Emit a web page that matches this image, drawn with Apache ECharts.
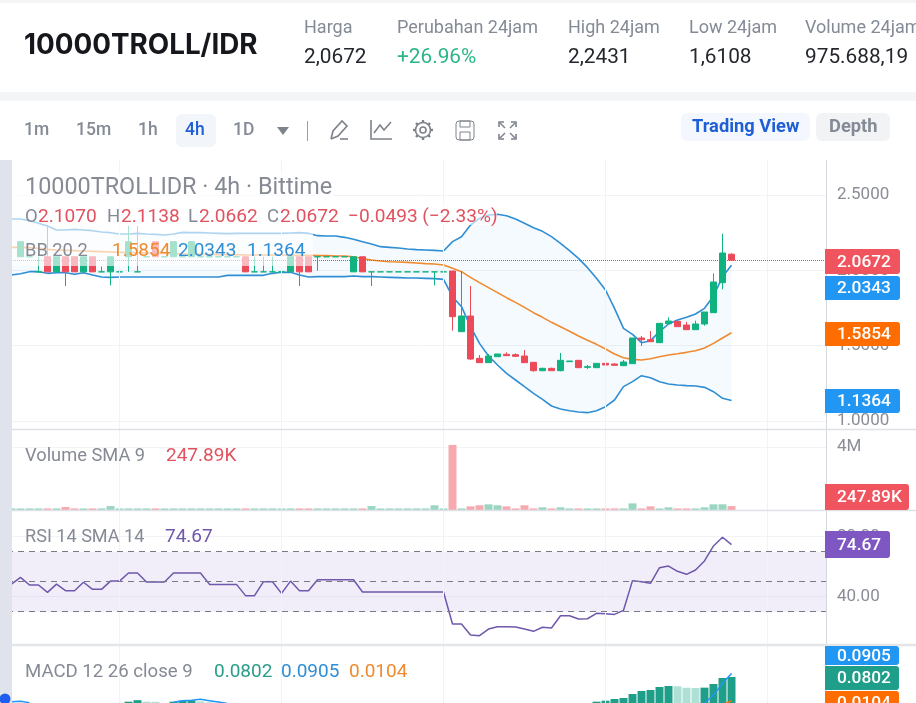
<!DOCTYPE html>
<html><head><meta charset="utf-8">
<style>html,body{margin:0;padding:0;background:#fff}#c{width:916px;height:703px}</style>
<script src="https://cdn.jsdelivr.net/npm/echarts@6/dist/echarts.min.js"></script>
</head><body><div id="c"></div>
<script>
// index 0 of candles = first visible candle; bands/volume/RSI carry one extra leading slot (clipped at the left edge)
const opens=[2.09,2.09,1.99,2.09,1.99,2.09,2.09,1.99,2.09,1.99,
1.99,1.99,2.09,1.99,2.09,2.19,2.09,2.09,2.09,2.09,
2.09,2.09,2.09,2.09,2.09,2.09,1.99,1.99,1.99,1.99,
1.99,2.09,2.09,2.09,2.09,2.09,2.09,1.99,2.09,1.99,
1.99,1.99,1.99,1.99,1.99,1.99,1.99,1.99,
1.9956,1.5929,1.6969,1.4160,1.3872,1.4270,1.4425,1.4403,1.4314,1.3894,1.3341,1.3496,1.3341,1.3938,1.4027,1.3562,1.3540,1.3828,1.3784,1.3673,1.3806,1.5509,1.5398,1.5199,1.6460,1.6615,1.6372,1.6062,1.6438,1.7190,1.9181,2.1070];
const closes=[2.19,2.09,1.99,1.99,2.09,1.99,1.99,2.09,1.99,1.99,
2.09,1.99,2.19,1.99,2.09,2.09,2.09,2.19,2.09,2.19,
2.09,2.09,2.09,2.09,2.09,1.99,1.99,1.99,1.99,1.99,
2.09,1.99,1.99,2.09,2.09,2.09,2.09,2.09,1.99,1.99,
1.99,1.99,1.99,1.99,1.99,1.99,1.99,1.99,
1.6925,1.6969,1.4115,1.3872,1.4314,1.4447,1.4337,1.4292,1.3872,1.3341,1.3496,1.3341,1.4027,1.3983,1.3540,1.3607,1.3828,1.3717,1.3695,1.3916,1.5509,1.5398,1.5266,1.6482,1.6637,1.6261,1.6062,1.6438,1.7235,1.9226,2.1150,2.0672];
const lows=[2.09,2.09,1.99,1.99,1.99,1.8961,1.99,1.99,1.99,1.99,
1.9005,1.99,1.99,1.99,2.09,2.09,2.09,2.09,2.09,2.09,
2.09,2.09,2.09,2.09,2.09,1.99,1.99,1.99,1.99,1.99,
1.99,1.8961,1.99,1.9978,2.09,2.09,2.09,1.99,1.99,1.8961,
1.99,1.99,1.99,1.99,1.99,1.99,1.9005,1.99,
1.5996,1.5929,1.4049,1.3872,1.3872,1.4270,1.4314,1.4292,1.3872,1.3275,1.3297,1.3341,1.3297,1.3938,1.3540,1.3452,1.3540,1.3673,1.3695,1.3673,1.3806,1.4978,1.5266,1.5199,1.6460,1.6239,1.6062,1.6062,1.6328,1.7190,1.8739,2.0662];
const highs=[2.19,2.09,2.09,2.2989,2.09,2.09,2.09,2.09,2.09,2.0244,
2.09,2.09,2.2943,2.2943,2.09,2.19,2.09,2.19,2.09,2.19,
2.09,2.09,2.09,2.09,2.09,2.09,2.09,2.09,2.09,2.09,
2.09,2.09,2.09,2.09,2.09,2.09,2.09,2.09,2.09,1.99,
1.99,1.99,1.99,1.99,1.99,1.99,1.99,1.99,
1.9956,1.9956,1.8960,1.4381,1.4447,1.4447,1.4558,1.4491,1.4713,1.3894,1.3540,1.3540,1.4514,1.3983,1.4049,1.3717,1.3828,1.4093,1.3828,1.4049,1.5509,1.5642,1.5974,1.6482,1.6881,1.6704,1.6571,1.6659,1.7235,1.9801,2.2431,2.1138];

const bbUpper=[2.3407,2.3407,2.3297,2.3120,2.2943,2.2677,2.2677,2.2721,2.2677,2.2633,2.2544,2.2500,2.2412,2.2412,2.2456,2.2412,2.2390,2.2345,2.2412,2.2522,2.2500,2.2500,2.2478,2.2456,2.2434,2.2456,2.2456,2.2456,2.2456,2.2456,2.2456,2.2478,2.2500,2.2456,2.2301,2.2279,2.2279,2.2190,2.2058,2.1903,2.1748,2.1571,2.1527,2.1483,2.1416,2.1372,2.1350,2.1328,2.1283,
2.1903,2.2234,2.3009,2.3451,2.3672,2.3717,2.3628,2.3407,2.3119,2.2832,2.2588,2.2234,2.1792,2.1305,2.0796,2.0177,1.9469,1.8695,1.7478,1.6151,1.5752,1.5199,1.5332,1.5929,1.6438,1.6704,1.6881,1.7102,1.7478,1.8297,1.9580,2.0343];
const bbMid=[2.1527,2.1527,2.1505,2.1460,2.1394,2.1350,2.1328,2.1306,2.1283,2.1261,2.1239,2.1217,2.1195,2.1173,2.1173,2.1151,2.1129,2.1129,2.1107,2.1084,2.1084,2.1062,2.1062,2.1040,2.1040,2.1040,2.1018,2.1018,2.1018,2.1018,2.1018,2.0996,2.0996,2.0996,2.0974,2.0974,2.0952,2.0952,2.0907,2.0775,2.0686,2.0620,2.0575,2.0553,2.0531,2.0487,2.0443,2.0421,2.0354,
2.0133,1.9912,1.9535,1.9182,1.8850,1.8518,1.8186,1.7876,1.7544,1.7190,1.6881,1.6549,1.6261,1.5952,1.5642,1.5354,1.5089,1.4779,1.4447,1.4204,1.4093,1.4049,1.4137,1.4270,1.4381,1.4469,1.4558,1.4669,1.4845,1.5155,1.5509,1.5854];
const bbLower=[1.9691,1.9779,1.9912,1.9912,1.9801,1.9845,1.9845,1.9735,1.9845,1.9691,1.9558,1.9536,1.9558,1.9558,1.9558,1.9558,1.9558,1.9558,1.9558,1.9558,1.9558,1.9558,1.9558,1.9558,1.9668,1.9668,1.9668,1.9668,1.9668,1.9801,1.9868,1.9868,1.9691,1.9558,1.9580,1.9580,1.9580,1.9580,1.9624,1.9580,1.9580,1.9558,1.9536,1.9514,1.9491,1.9491,1.9469,1.9447,1.9403,
1.8252,1.7589,1.6261,1.5155,1.4314,1.3717,1.3164,1.2722,1.2279,1.1837,1.1438,1.0996,1.0797,1.0686,1.0598,1.0554,1.0686,1.0952,1.1394,1.2279,1.2611,1.3009,1.2876,1.2611,1.2456,1.2390,1.2346,1.2323,1.2235,1.1947,1.1505,1.1364];

const volumes=[.1,.1,.1,.1,.1,.1,.19,.1,.1,.1,.1,.25,.1,.1,.1,.1,.1,.1,.1,.1,.1,.1,.1,.1,.1,.1,.1,.1,.1,.1,.1,.1,.1,.1,.1,.1,.1,.1,.1,.1,.25,.1,.1,.1,.1,.1,.1,.3,.1,
4.13,.1,.23,.3,.36,.3,.23,.1,.3,.1,.17,.1,.17,.1,.1,.1,.1,.1,.1,.1,.42,.1,.23,.1,.17,.1,.1,.1,.17,.36,.36,.248];

const rsi=[48.4,52.9,47.8,47.8,42.9,48.4,44.0,44.0,49.6,44.9,44.9,50.4,50.4,55.8,55.8,49.8,49.8,49.8,55.8,55.8,55.8,55.8,48.2,48.2,48.2,48.2,40.7,40.7,50.0,50.0,42.2,50.4,44.0,44.0,51.3,51.3,51.3,51.3,51.3,43.1,43.1,43.1,43.1,43.1,43.1,43.1,43.1,43.1,43.1,
21.8,21.8,14.4,14.0,18.4,20.0,20.0,19.8,18.4,16.9,19.6,19.1,27.3,27.3,25.1,25.3,28.9,28.7,28.2,30.9,50.7,50.0,48.9,59.3,60.4,56.9,54.9,57.8,63.8,73.8,79.6,74.67];

const macdHist=[null,null,null,null,null,null,null,null,null,null,null,null,null,.0080,.0124,.0080,.0075,null,.0080,.0109,.0115,.0085,.0060,.0050,null,null,null,null,null,null,null,null,null,null,null,null,null,null,null,null,null,null,null,null,null,null,null,null,null,
null,null,null,null,null,null,null,null,null,null,null,null,null,null,null,null,.0080,.0109,.0158,.0187,.0304,.0392,.0421,.0509,.0538,.0530,.0488,.0480,.0490,.0596,.0772,.0802];
const macdLine=[.0080,.0095,.0050,null,null,null,null,null,null,null,null,null,null,null,null,null,null,null,.0060,.0109,.0124,.0150,.0110,.0070,.0030,null,null,null,null,null,null,null,null,null,null,null,null,null,null,null,null,null,null,null,null,null,null,null,null,
null,null,null,null,null,null,null,null,null,null,null,null,null,null,null,null,null,null,null,null,null,null,null,null,null,null,null,null,.0041,.0275,.0616,.0905];
const macdSignal=new Array(79).fill(null).concat([.0000,.0104]);

const ticksMain=[1,1.5,2,2.5], ticksVol=[4], ticksRsi=[40,80];
const rsiLevels=[30,50,70];
const lastPrice=2.0672;

const UP='#10b27f',DN='#ec4a59',UPV='#9bd6c2',DNV='#f7a9b0',BLUE='#2f8ed4',ORG='#ef8a2e',PUR='#6f57ac',GRIDC='#f1f3f7',AX='#d5d8de',LBL='#8a8d96';
const N=91;
const cats=Array.from({length:N},(_,i)=>String(i-1));
const vLines=['11','29','47','65','83'].map(k=>({xAxis:k}));
const candles=[['-','-','-','-']].concat(opens.map((o,i)=>[o,closes[i],lows[i],highs[i]]));
const F='Roboto';

const G=[];
function rect(x,y,w,h,fill,z,r,stroke){G.push({type:'rect',silent:true,z:z==null?100:z,shape:{x,y,width:w,height:h,r:r||0},style:{fill:fill||'none',stroke:stroke||null}});}
function txt(s,x,y,size,color,weight,family,align){G.push({type:'text',silent:true,z:110,style:{text:s,x,y:y+2,fill:color,font:(weight||'normal')+' '+size+'px '+(family||F),align:align||'left',verticalAlign:'middle'}});}
function pl(pts,color,w,z){G.push({type:'polyline',silent:true,z:z==null?110:z,shape:{points:pts},style:{stroke:color,fill:null,lineWidth:w||1.6}});}
function ln(x1,y1,x2,y2,c,w,z){G.push({type:'line',silent:true,z:z==null?90:z,shape:{x1,y1,x2,y2},style:{stroke:c,lineWidth:w||1}});}

// page chrome
rect(0,0,916,3,'#f4f5f6',-5);
rect(0,92,916,9,'#f4f5f6',-5);
rect(0,160,12,543,'#e0e3eb',100);
G.push({type:'circle',silent:true,z:105,shape:{cx:5,cy:699,r:5.5},style:{fill:'#1f5cf0'}});

// header
txt('10000TROLL/IDR',24,44,27.8,'#15171c','bold','Inter');
const hdr=[['Harga',304,'2,0672','#23262c'],['Perubahan 24jam',397,'+26.96%','#2bb685'],['High 24jam',568,'2,2431','#23262c'],['Low 24jam',689,'1,6108','#23262c'],['Volume 24jam',805,'975.688,19','#23262c']];
hdr.forEach(h=>{txt(h[0],h[1],26,18,'#848b96');txt(h[2],h[1],56,20.8,h[3]);});

// toolbar
[['1m',24],['15m',76],['1h',138],['1D',233]].forEach(b=>txt(b[0],b[1],129,17.5,'#848b96','500'));
rect(176,114,40,33,'#f2f5fa',5,6);
txt('4h',185,129,17.5,'#1f5fd6','500');
G.push({type:'polygon',silent:true,z:110,shape:{points:[[277,127],[289,127],[283,135]]},style:{fill:'#7e838c'}});
ln(307.5,121,307.5,141,'#9aa0a8',1,110);
const IC='#7d828b';
pl([[331,139],[333,131],[342,121],[347,126],[338,136],[331,139]],IC,1.6);pl([[340,139],[348,139]],IC,1.6);
pl([[371,120],[371,139],[392,139]],IC,1.6);pl([[374,133],[380,125],[384,130],[391,122]],IC,1.6);
G.push({type:'circle',silent:true,z:110,shape:{cx:423,cy:130,r:7.5},style:{fill:null,stroke:IC,lineWidth:1.6}});
G.push({type:'circle',silent:true,z:110,shape:{cx:423,cy:130,r:3},style:{fill:null,stroke:IC,lineWidth:1.6}});
[[423,120,423,122.5],[423,137.5,423,140],[413,130,415.5,130],[430.5,130,433,130],[416,123,417.8,124.8],[428.2,135.2,430,137],[430,123,428.2,124.8],[417.8,135.2,416,137]].forEach(a=>ln(a[0],a[1],a[2],a[3],IC,2.4,110));
rect(456,121,18,19,null,110,3,IC);rect(460,121,10,6,null,110,0,IC);rect(460,132,10,8,null,110,0,IC);
pl([[499,127],[499,122],[504,122]],IC,1.6);pl([[511,122],[516,122],[516,127]],IC,1.6);pl([[499,134],[499,139],[504,139]],IC,1.6);pl([[511,139],[516,139],[516,134]],IC,1.6);
pl([[500,123],[505,128]],IC,1.4);pl([[515,123],[510,128]],IC,1.4);pl([[500,138],[505,133]],IC,1.4);pl([[515,138],[510,133]],IC,1.4);
rect(681,113,129,28,'#f4f8fe',5,6);txt('Trading View',692,125,18.3,'#1f5fd6','bold');
rect(816,113,74,28,'#f2f3f5',5,6);txt('Depth',829,125,18.3,'#848b96','bold');

// semi-transparent legend plates
rect(12,172,322,30,'rgba(255,255,255,0.62)',95);
rect(12,202,485,23,'rgba(255,255,255,0.62)',95);
rect(12,225,301,41,'rgba(255,255,255,0.62)',95);

// legends
txt('10000TROLLIDR · 4h · Bittime',25,186,23.4,'#868a94');
[['O',25],['H',107],['L',188],['C',267]].forEach(a=>txt(a[0],a[1],215,18.5,'#868a94'));
[['2.1070',38],['2.1138',121],['2.0662',199],['2.0672',280],['−0.0493 (−2.33%)',348]].forEach(a=>txt(a[0],a[1],215,19.1,'#e0525f'));
txt('BB 20 2',25,249,18.3,'#868a94');txt('1.5854',112,249,19,'#ef8a2e');txt('2.0343',178,249,19,'#2f8ed4');txt('1.1364',247,249,19,'#2f8ed4');
txt('Volume SMA 9',25,454,18.3,'#868a94');txt('247.89K',166,454,19,'#e0525f');
txt('RSI 14 SMA 14',25,535,18.1,'#868a94');txt('74.67',165,535,19,'#6f57ac');
txt('MACD 12 26 close 9',25,670,18.6,'#868a94');txt('0.0802',214,670,19,'#2a9d8a');txt('0.0905',281,670,19,'#2f8ed4');txt('0.0104',349,670,19,'#ef8a2e');

// price tags
function tag(s,y,h,w,c){G.push({type:'rect',silent:true,z:108,shape:{x:825,y:y,width:w,height:h,r:[0,3,3,0]},style:{fill:c}});txt(s,837,y+h/2-1,17.3,'#fff','500');}
tag('2.0672',249,25,75,'#f0555f');tag('2.0343',276,24,75,'#2196f3');tag('1.5854',322,24,75,'#ff6d00');tag('1.1364',389,24,75,'#2196f3');
tag('247.89K',484,26,84,'#f0555f');tag('74.67',531,27,65,'#7e57c2');
tag('0.0905',646,19,74,'#2196f3');tag('0.0802',666,24,74,'#1f9e89');tag('0.0104',691,24,74,'#ff6d00');

// separators
ln(12,429.5,916,429.5,'#dfe1e6',1.5);ln(12,510.5,916,510.5,'#dfe1e6',1.5);ln(12,645,916,645,'#e3e5e9',2.5);

function grid(t,h){return {left:7,width:819,top:t,height:h};}
function xa(g){return {type:'category',gridIndex:g,data:cats,show:false,boundaryGap:true};}
function ya(g,min,max,vals,fmt){return {type:'value',gridIndex:g,position:'right',min,max,scale:true,
  axisLine:{show:true,onZero:false,lineStyle:{color:AX}},axisTick:{show:false,customValues:vals},
  axisLabel:{show:vals.length>0,customValues:vals,inside:false,margin:11,color:LBL,fontFamily:F,fontSize:17,padding:[5,0,0,0],formatter:fmt},
  splitLine:{show:true,lineStyle:{color:GRIDC}}};}
function vgrid(g){return {type:'line',xAxisIndex:g,yAxisIndex:g,data:[],z:1,silent:true,markLine:{silent:true,symbol:'none',label:{show:false},lineStyle:{color:GRIDC,width:1,type:'solid'},data:vLines,animation:false}};}
function bbl(d,c,z){return {type:'line',xAxisIndex:0,yAxisIndex:0,data:d,symbol:'none',z:z,lineStyle:{color:c,width:1.6},silent:true};}

const series=[vgrid(0),vgrid(1),vgrid(2),vgrid(3),
 {type:'line',xAxisIndex:0,yAxisIndex:0,stack:'bb',data:bbLower,symbol:'none',lineStyle:{opacity:0},z:1,silent:true},
 {type:'line',xAxisIndex:0,yAxisIndex:0,stack:'bb',data:bbUpper.map((u,i)=>+(u-bbLower[i]).toFixed(4)),symbol:'none',lineStyle:{opacity:0},areaStyle:{color:'rgba(33,150,243,0.06)'},z:1,silent:true},
 bbl(bbUpper,BLUE,2),bbl(bbLower,BLUE,2),bbl(bbMid,ORG,2),
 {type:'candlestick',xAxisIndex:0,yAxisIndex:0,data:candles,barWidth:7,z:3,silent:true,
  itemStyle:{color:UP,color0:DN,borderColor:UP,borderColor0:DN,borderColorDoji:UP,borderWidth:1},
  markLine:{silent:true,symbol:'none',label:{show:false},animation:false,lineStyle:{color:'#d9505f',type:'dotted',width:1},data:[{yAxis:lastPrice}]}},
 {type:'bar',xAxisIndex:1,yAxisIndex:1,barWidth:8,silent:true,
  data:volumes.map((v,i)=>({value:v,itemStyle:{color:(i>0&&closes[i-1]<opens[i-1])?DNV:UPV}}))},
 {type:'line',xAxisIndex:2,yAxisIndex:2,data:rsi,symbol:'none',z:3,lineStyle:{color:PUR,width:1.5},silent:true,
  markArea:{silent:true,itemStyle:{color:'rgba(126,87,194,0.1)'},data:[[{yAxis:rsiLevels[0]},{yAxis:rsiLevels[2]}]]},
  markLine:{silent:true,symbol:'none',label:{show:false},animation:false,lineStyle:{color:'#787b86',type:[6,5],width:1},data:rsiLevels.map(v=>({yAxis:v}))}},
 {type:'bar',xAxisIndex:3,yAxisIndex:3,barWidth:8,silent:true,
  data:macdHist.map((v,i)=>({value:v,itemStyle:{color:(v!=null&&i>0&&macdHist[i-1]!=null&&v<macdHist[i-1])?'#aee0d6':'#1f9e89'}}))},
 {type:'line',xAxisIndex:3,yAxisIndex:3,data:macdLine,symbol:'none',z:4,lineStyle:{color:'#2196f3',width:1.5},silent:true},
 {type:'line',xAxisIndex:3,yAxisIndex:3,data:macdSignal,symbol:'none',z:4,lineStyle:{color:'#ff6d00',width:1.5},silent:true}
];

const chart=echarts.init(document.getElementById('c'));
chart.setOption({animation:false,backgroundColor:'#fff',
 grid:[grid(160,269),grid(430,80),grid(511,134),grid(646,57)],
 xAxis:[xa(0),xa(1),xa(2),xa(3)],
 yAxis:[ya(0,0.947,2.7323,ticksMain,v=>v.toFixed(4)),
        ya(1,0,5.08,ticksVol,v=>v+'M'),
        ya(2,7.8,97.1,ticksRsi,v=>v.toFixed(2)),
        ya(3,0.0041,0.1708,[],v=>v)],
 series,graphic:{elements:G}});
</script></body></html>
